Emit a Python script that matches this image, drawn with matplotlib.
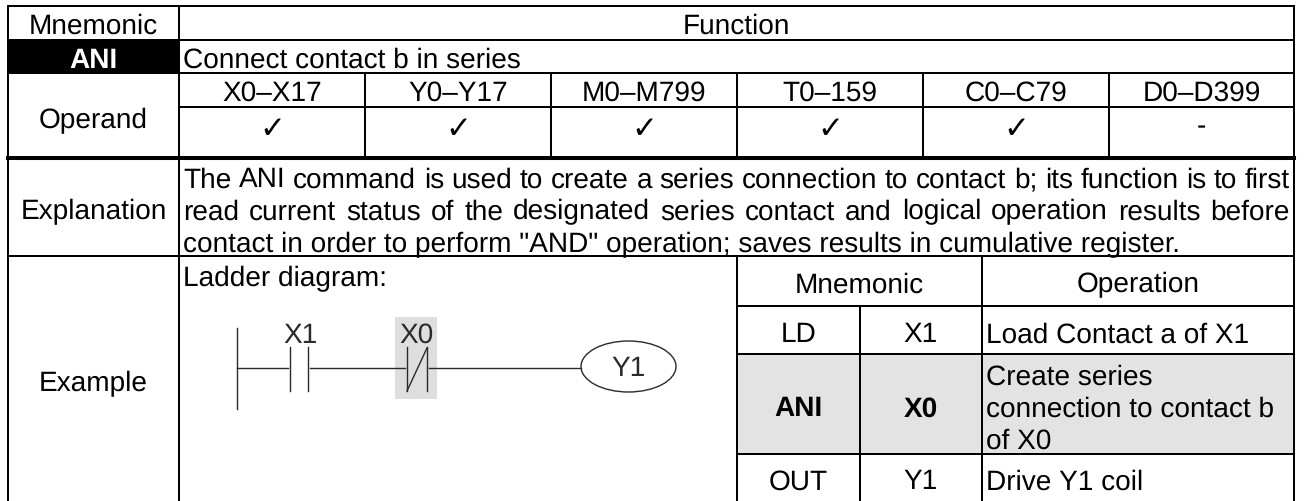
import matplotlib
matplotlib.use("Agg")
import matplotlib.pyplot as plt
from matplotlib.patches import Rectangle, Ellipse

W, H = 1308, 502
plt.rcParams['font.family'] = ['Liberation Sans', 'DejaVu Sans']
plt.rcParams['text.hinting'] = 'none'
plt.rcParams['text.hinting_factor'] = 1

HEAD = ["Mnemonic", "Function"]
OPERANDS = ["X0–X17", "Y0–Y17", "M0–M799", "T0–159", "C0–C79", "D0–D399"]
MARKS = ["✓", "✓", "✓", "✓", "✓", "-"]
EXPL = ["The ANI command is used to create a series connection to contact b; its function is to first",
        "read current status of the designated series contact and logical operation results before",
        "contact in order to perform \"AND\" operation; saves results in cumulative register."]
OPS = [("LD", "X1", ["Load Contact a of X1"]),
       ("ANI", "X0", ["Create series", "connection to contact b", "of X0"]),
       ("OUT", "Y1", ["Drive Y1 coil"])]

fig = plt.figure(figsize=(W/100, H/100), dpi=100)
ax = fig.add_axes([0, 0, 1, 1])
ax.set_xlim(0, W); ax.set_ylim(H, 0); ax.axis('off')

FS = 20.2
LW = 1.44
L, C1, R = 8, 179, 1294
cols = [179, 365, 551, 737, 923, 1109, 1294]
XA, XB, XC = 737, 860, 982
TEXT_X = 183

def ln(x0, y0, x1, y1, lw=LW, c='black'):
    ax.plot([x0, x1], [y0, y1], color=c, lw=lw, solid_capstyle='projecting')
def t(x, yc, s, ha='center', **k):
    return ax.text(x, yc + 9.5, s, ha=ha, va='baseline', fontsize=k.pop('fs', FS),
                   color=k.pop('color', 'black'), **k)

# fills
ax.add_patch(Rectangle((L, 41), C1-L, 33, fc='black', ec='none'))
ax.add_patch(Rectangle((XA, 355), R-XA, 100, fc='#e3e3e3', ec='none'))
ax.add_patch(Rectangle((395, 318), 42, 82, fc='#dedede', ec='none'))

# grid
for y in (7, 41, 74, 257):
    ln(L, y, R, y)
ln(L, 159, R, 159, 2.9)
ln(C1, 108, R, 108)
ln(L, 7, L, H); ln(C1, 7, C1, H); ln(R, 7, R, H)
for x in cols[1:-1]:
    ln(x, 74, x, 159)
for x, y0 in ((XA, 257), (XB, 307), (XC, 257)):
    ln(x, y0, x, H)
for y in (307, 355, 455):
    ln(XA, y, R, y)

# text
t(93.5, 24, HEAD[0]); t(736.5, 24, HEAD[1])
t(93.5, 58, "ANI", color='white', fontweight='bold')
t(TEXT_X, 58, "Connect contact b in series", ha='left')
t(93.5, 119, "Operand")
for i, s in enumerate(OPERANDS):
    x = (cols[i] + cols[i+1]) / 2
    t(x, 91, s)
    if MARKS[i] == "-":
        t(x, 125, MARKS[i])
    else:
        ax.text(x, 129, MARKS[i], ha='center', va='center', fontsize=22, family=['DejaVu Sans'])
t(93.5, 210, "Explanation")

# explanation text: first two lines are justified between the cell margins
renderer = fig.canvas.get_renderer()
EXPL_Y = [178, 210, 243]
JUST_R = 1290
for k, s in enumerate(EXPL):
    if k == 2:
        t(TEXT_X, EXPL_Y[k], s, ha='left')
        continue
    words = s.split(' ')
    items = [t(TEXT_X, EXPL_Y[k], w, ha='left') for w in words]
    widths = [it.get_window_extent(renderer).width for it in items]
    gap = (JUST_R - TEXT_X - sum(widths)) / (len(words) - 1)
    x = TEXT_X
    for it, wd in zip(items, widths):
        it.set_x(x)
        x += wd + gap

t(TEXT_X, 277, "Ladder diagram:", ha='left')
t(93.5, 382, "Example")
t((XA+XC)/2, 283, "Mnemonic"); t((XC+R)/2, 283, "Operation")
row_y = [333, 407, 480]
for (a, b, c), y in zip(OPS, row_y):
    w = 'bold' if a == 'ANI' else 'normal'
    t((XA+XB)/2, y, a, fontweight=w); t((XB+XC)/2, y, b, fontweight=w)
    n = len(c)
    for i, s in enumerate(c):
        t(986, y + (i - (n-1)/2) * 32, s, ha='left')

# ladder
lc = '#2a2a2a'
LL = 1.0
ln(237, 329, 237, 410, LL, lc)
ln(237, 369, 288, 369, LL, lc)
ln(290, 348, 290, 392, LL, lc); ln(308, 348, 308, 392, LL, lc)
ln(310, 369, 405, 369, LL, lc)
ln(407, 348, 407, 392, LL, lc); ln(427, 348, 427, 392, LL, lc)
ln(407, 392, 427, 349, LL, lc)
ln(429, 369, 581, 369, LL, lc)
ax.add_patch(Ellipse((628.5, 367.5), 95, 51, fc='none', ec=lc, lw=LL))
t(301, 333.5, "X1", fs=20, color=lc); t(416.5, 333.5, "X0", fs=20, color=lc); t(629, 367, "Y1", fs=20, color=lc)

fig.savefig("out.png", dpi=100)
